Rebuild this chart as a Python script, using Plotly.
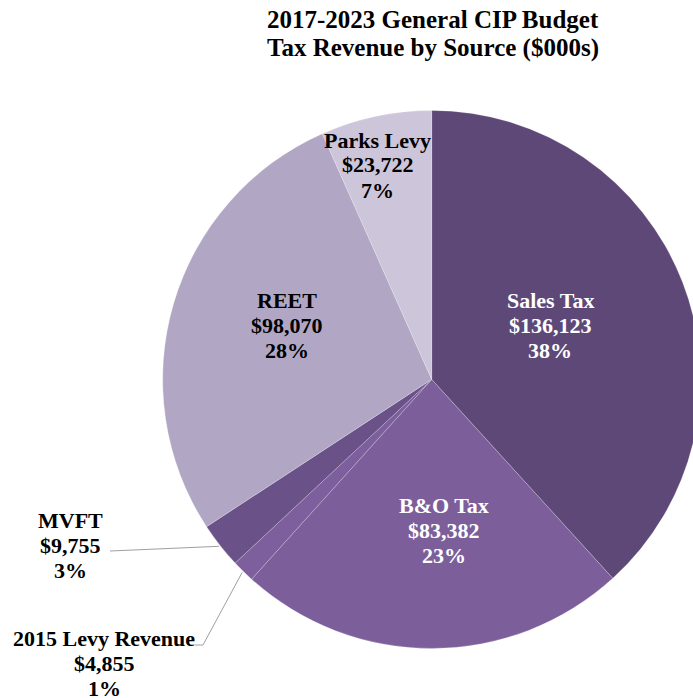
import math
import plotly.graph_objects as go

# Tax revenue by source, $000s
sources = ["Sales Tax", "B&O Tax", "2015 Levy Revenue", "MVFT", "REET", "Parks Levy"]
amounts = [136123, 83382, 4855, 9755, 98070, 23722]
title_lines = ["2017-2023 General CIP Budget", "Tax Revenue by Source ($000s)"]

slice_colors = ["#5E4877", "#7B5E9A", "#7C5F9C", "#6A5289", "#B1A7C5", "#CDC5DA"]
label_colors = ["white", "white", "black", "black", "black", "black"]

# label anchor (pixel centre of first text line) for each source
label_anchor = {
    "Sales Tax": (550, 300),
    "B&O Tax": (444, 505),
    "2015 Levy Revenue": (104, 638),
    "MVFT": (70, 520),
    "REET": (287, 300),
    "Parks Levy": (378, 140),
}
# sources labelled outside the pie, with the leader-line start point
outside_leader = {
    "MVFT": [(110, 551)],
    "2015 Levy Revenue": [(195, 645), (203, 645)],
}

W, H = 710, 698
CX, CY, R = 431.7, 379.4, 269.0
LINE_GAP = 25
FONT = "Liberation Serif, Times New Roman, serif"


def px(x):
    return x / W


def py(y):
    return 1 - y / H


fig = go.Figure(
    go.Pie(
        labels=sources,
        values=amounts,
        sort=False,
        direction="clockwise",
        rotation=0,
        marker=dict(colors=slice_colors,
                    line=dict(color="rgba(255,255,255,0.35)", width=0.6)),
        textinfo="none",
        hoverinfo="label+value+percent",
        showlegend=False,
        domain=dict(x=[px(CX - R), px(CX + R)], y=[py(CY + R), py(CY - R)]),
    )
)

total = sum(amounts)
annotations = []
shapes = []
cum = 0.0
for name, val, tcol in zip(sources, amounts, label_colors):
    frac = val / total
    mid = (cum + frac / 2) * 2 * math.pi
    cum += frac
    lines = [name, f"${val:,}", f"{round(frac * 100)}%"]
    ax, ay = label_anchor[name]
    for i, line in enumerate(lines):
        annotations.append(dict(
            x=px(ax), y=py(ay + i * LINE_GAP), xref="paper", yref="paper",
            text=line, showarrow=False, xanchor="center", yanchor="middle",
            font=dict(family=FONT, size=22, color=tcol, weight="bold"),
        ))
    if name in outside_leader:
        ex = CX + R * 1.005 * math.sin(mid)
        ey = CY - R * 1.005 * math.cos(mid)
        pts = outside_leader[name] + [(ex, ey)]
        for (x0, y0), (x1, y1) in zip(pts[:-1], pts[1:]):
            shapes.append(dict(type="line", xref="paper", yref="paper",
                               x0=px(x0), y0=py(y0), x1=px(x1), y1=py(y1),
                               line=dict(color="#A0A0A0", width=1)))

for i, t in enumerate(title_lines):
    annotations.append(dict(
        x=px(433), y=py(19 + i * 29), xref="paper", yref="paper",
        text=t, showarrow=False, xanchor="center", yanchor="middle",
        font=dict(family=FONT, size=25, color="black", weight="bold"),
    ))

fig.update_layout(
    width=W, height=H,
    margin=dict(l=0, r=0, t=0, b=0),
    paper_bgcolor="white", plot_bgcolor="white",
    annotations=annotations, shapes=shapes,
)

fig.write_html(
    "out.html",
    post_script="document.documentElement.style.overflow='hidden';"
                "document.body.style.overflow='hidden';",
)
